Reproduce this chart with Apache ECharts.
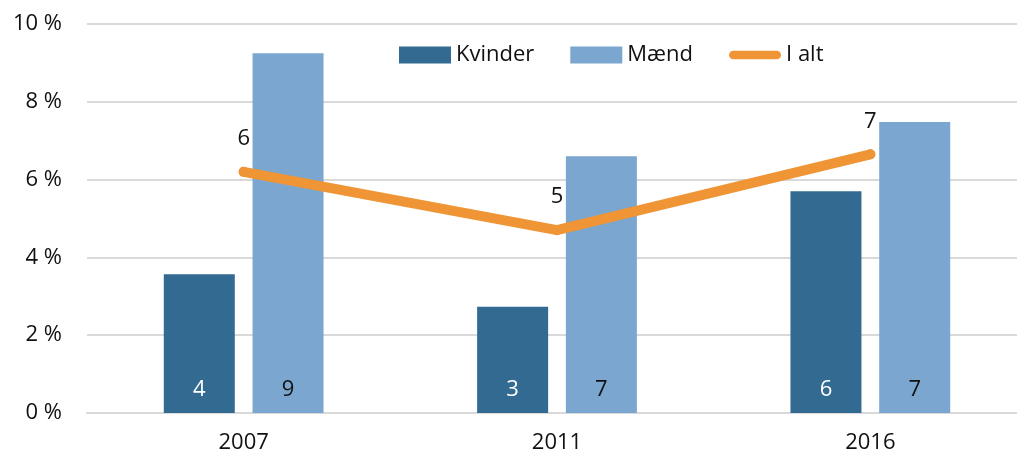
<!DOCTYPE html>
<html>
<head>
<meta charset="utf-8">
<script src="https://cdn.jsdelivr.net/npm/echarts@6/dist/echarts.min.js"></script>
<style>
  html, body { margin: 0; padding: 0; background: #fff; }
  #chart { width: 1017px; height: 459px; }
</style>
</head>
<body>
<div id="chart"></div>
<script>
var years = ['2007', '2011', '2016'];
var kvinder = [3.57, 2.73, 5.7];
var maend = [9.25, 6.6, 7.48];
var iAlt = [6.2, 4.7, 6.65];
var yTicks = [0, 10, 2]; // min, max, interval

var font = '"Open Sans", "Noto Sans", sans-serif';
var chart = echarts.init(document.getElementById('chart'));

function rounded(p) { return Math.round(p.value); }

var option = {
  animation: false,
  textStyle: { fontFamily: font },
  grid: { left: 87, top: 24, bottom: 46, right: -10, containLabel: false, outerBoundsMode: 'none' },
  legend: {
    left: 399,
    top: 44,
    padding: 0,
    itemWidth: 52,
    itemHeight: 17,
    itemGap: 36,
    textStyle: { fontSize: 22, color: '#111', fontFamily: font },
    data: [
      { name: 'Kvinder', icon: 'rect' },
      { name: 'Mænd', icon: 'rect' },
      { name: 'I alt', icon: 'path://M5,0 L56,0 A5,5 0 0 1 56,10 L5,10 A5,5 0 0 1 5,0 Z' }
    ]
  },
  xAxis: {
    type: 'category',
    data: years,
    axisTick: { show: false },
    axisLine: { lineStyle: { color: '#d9d9d9', width: 2 } },
    axisLabel: { fontSize: 22, color: '#111', margin: 19, fontFamily: font }
  },
  yAxis: {
    type: 'value',
    min: yTicks[0],
    max: yTicks[1],
    interval: yTicks[2],
    axisLabel: { formatter: '{value} %', fontSize: 22, color: '#111', margin: 25, fontFamily: font },
    splitLine: { lineStyle: { color: '#d9d9d9', width: 2 } },
    axisLine: { show: false },
    axisTick: { show: false }
  },
  series: [
    {
      name: 'Kvinder',
      type: 'bar',
      data: kvinder,
      barWidth: 71,
      barGap: '25%',
      itemStyle: { color: '#336a92' },
      label: { show: true, position: 'insideBottom', distance: 12, formatter: rounded, color: '#fff', fontSize: 22, fontFamily: font }
    },
    {
      name: 'Mænd',
      type: 'bar',
      data: maend,
      barWidth: 71,
      barGap: '25%',
      itemStyle: { color: '#7aa6cf' },
      label: { show: true, position: 'insideBottom', distance: 12, formatter: rounded, color: '#111', fontSize: 22, fontFamily: font }
    },
    {
      name: 'I alt',
      type: 'line',
      data: iAlt,
      symbol: 'circle',
      symbolSize: 10,
      itemStyle: { color: '#ef9535' },
      lineStyle: { color: '#ef9535', width: 10, cap: 'round', join: 'round' },
      label: { show: true, position: 'top', distance: 17, formatter: rounded, color: '#111', fontSize: 22, fontFamily: font }
    }
  ]
};

chart.setOption(option);
</script>
</body>
</html>
